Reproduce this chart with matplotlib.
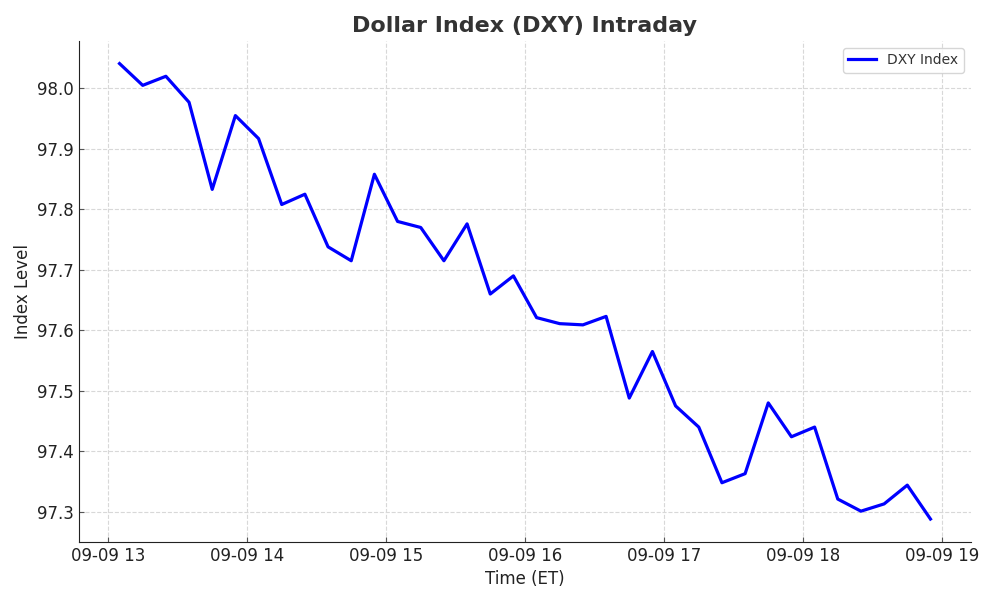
import matplotlib
matplotlib.use("Agg")
import matplotlib.pyplot as plt
import matplotlib.dates as mdates
import pandas as pd

start_time = "2025-09-09 13:05"
freq = "10min"
dxy_values = [
    98.041, 98.005, 98.020, 97.977, 97.833, 97.955, 97.917, 97.808, 97.825, 97.738,
    97.715, 97.858, 97.780, 97.770, 97.715, 97.776, 97.660, 97.690, 97.621, 97.611,
    97.609, 97.623, 97.488, 97.565, 97.475, 97.440, 97.348, 97.363, 97.480, 97.424,
    97.440, 97.321, 97.301, 97.313, 97.344, 97.288,
]
times = pd.date_range(start_time, periods=len(dxy_values), freq=freq)

title = "Dollar Index (DXY) Intraday"
xlabel = "Time (ET)"
ylabel = "Index Level"
series_label = "DXY Index"

plt.rcParams["font.family"] = ["DejaVu Sans"]
fig, ax = plt.subplots(figsize=(10, 6), dpi=100)
ax.plot(times, dxy_values, color="#0000ff", linewidth=2.3, label=series_label)

ax.set_title(title, fontsize=16, fontweight="bold", color="#333333")
ax.set_xlabel(xlabel, fontsize=12, color="#222222")
ax.set_ylabel(ylabel, fontsize=12, color="#222222")
ax.xaxis.set_major_locator(mdates.HourLocator())
ax.xaxis.set_major_formatter(mdates.DateFormatter("%m-%d %H"))
ax.tick_params(direction="in", labelsize=12, colors="#555555", labelcolor="#222222")
ax.grid(True, linestyle="--", color="#d8d8d8", linewidth=0.8)
for s in ["top", "right"]:
    ax.spines[s].set_visible(False)
for s in ["left", "bottom"]:
    ax.spines[s].set_color("#222222")
leg = ax.legend(loc="upper right", fontsize=10, frameon=True, edgecolor="#cccccc")
for t in leg.get_texts():
    t.set_color("#333333")

fig.subplots_adjust(left=0.079, right=0.971, top=0.932, bottom=0.097)
fig.savefig("out.png", dpi=100)
